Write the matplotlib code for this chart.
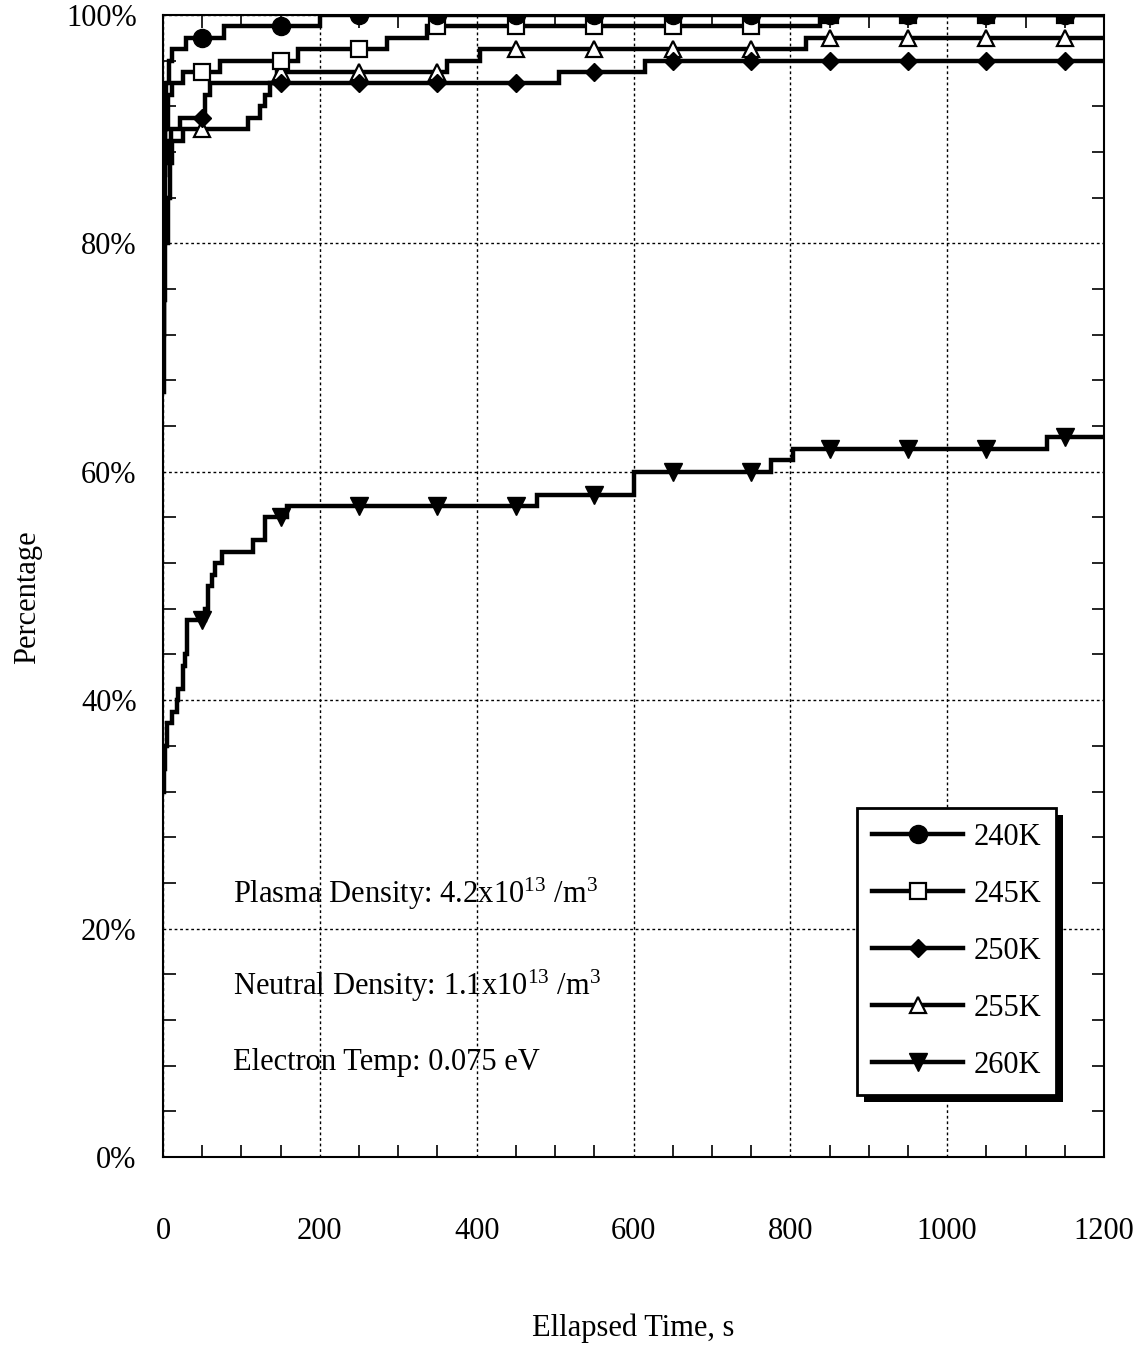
import numpy as np
import matplotlib
matplotlib.use("Agg")
import matplotlib.pyplot as plt
from matplotlib.legend_handler import HandlerLine2D
from matplotlib.patches import Rectangle
from matplotlib.transforms import IdentityTransform
from matplotlib.ticker import MultipleLocator, FuncFormatter

plt.rcParams["font.family"] = ["Liberation Serif", "DejaVu Serif"]
plt.rcParams["mathtext.fontset"] = "custom"
plt.rcParams["mathtext.rm"] = "Liberation Serif"
plt.rcParams["mathtext.it"] = "Liberation Serif:italic"

# Step data: time (s) at which each new percentage level begins
time_240 = [0, 1, 2, 4, 7, 11, 29, 78, 200, 1200]
pct_240 = [78, 86, 90, 94, 96, 97, 98, 99, 100, 100]

time_245 = [0, 1, 3, 6, 11, 25, 73, 172, 285, 337, 838, 1200]
pct_245 = [80, 86, 90, 93, 94, 95, 96, 97, 98, 99, 100, 100]

time_250 = [0, 1, 3, 6, 10, 22, 53, 60, 505, 615, 1200]
pct_250 = [72, 82, 87, 89, 90, 91, 93, 94, 95, 96, 96]

time_255 = [0, 1, 3, 6, 9, 11, 25, 108, 124, 130, 136, 145, 362, 404, 820, 1200]
pct_255 = [67, 75, 80, 84, 87, 89, 90, 91, 92, 93, 94, 95, 96, 97, 98, 98]

time_260 = [0, 1, 2.5, 5, 11, 18, 19, 25, 28, 31, 54, 57, 62, 66, 75,
            115, 130, 158, 477, 601, 775, 803, 1127, 1200]
pct_260 = [32, 34, 36, 38, 39, 40, 41, 43, 44, 47, 48, 50, 51, 52, 53,
           54, 56, 57, 58, 60, 61, 62, 63, 63]

marker_times = np.arange(50, 1200, 100)

series = [
    ("260K", time_260, pct_260, dict(marker="v", ms=13, mfc="black", mec="black")),
    ("255K", time_255, pct_255, dict(marker="^", ms=11, mfc="white", mec="black", mew=1.6)),
    ("250K", time_250, pct_250, dict(marker="D", ms=9, mfc="black", mec="black")),
    ("245K", time_245, pct_245, dict(marker="s", ms=11, mfc="white", mec="black", mew=1.6)),
    ("240K", time_240, pct_240, dict(marker="o", ms=13, mfc="black", mec="black")),
]

FS = 22

fig = plt.figure(figsize=(11.45, 13.47), dpi=100)
ax = fig.add_axes([0.1424, 0.1411, 0.8218, 0.8478])

handles = {}
for label, t, p, mk in series:
    t = np.asarray(t, float)
    p = np.asarray(p, float)
    ax.plot(t, p, drawstyle="steps-post", color="black", lw=3.2,
            solid_joinstyle="miter", zorder=3)
    idx = np.searchsorted(t, marker_times, side="right") - 1
    ax.plot(marker_times, p[idx], linestyle="none", zorder=4, **mk)
    handles[label] = plt.Line2D([], [], color="black", lw=3.2, **mk)

ax.set_xlim(0, 1200)
ax.set_ylim(0, 100)

ax.xaxis.set_major_locator(MultipleLocator(200))
ax.xaxis.set_minor_locator(MultipleLocator(50))
ax.yaxis.set_major_locator(MultipleLocator(20))
ax.yaxis.set_minor_locator(MultipleLocator(4))
ax.yaxis.set_major_formatter(FuncFormatter(lambda v, pos: f"{int(round(v))}%"))

ax.tick_params(which="both", direction="in", top=True, right=True,
               labelsize=FS, color="black", width=1.2)
ax.tick_params(which="major", length=0)
ax.tick_params(which="minor", length=9)
ax.tick_params(axis="x", which="major", pad=43)
ax.tick_params(axis="y", which="major", pad=19)

ax.grid(True, which="major", color="black", linestyle=(0, (2, 2)), lw=1.0)
for s in ax.spines.values():
    s.set_linewidth(1.5)
    s.set_color("black")

ax.set_xlabel("Ellapsed Time, s", fontsize=FS)
ax.set_ylabel("Percentage", fontsize=FS)
ax.xaxis.set_label_coords(0.5, -0.137)
ax.yaxis.set_label_coords(-0.129, 0.49)

txt_kw = dict(fontsize=FS, va="center", ha="left", zorder=5)
ax.text(89, 23.0, r"Plasma Density: 4.2x10$^{\mathrm{13}}$ /m$^{\mathrm{3}}$", **txt_kw)
ax.text(89, 15.0, r"Neutral Density: 1.1x10$^{\mathrm{13}}$ /m$^{\mathrm{3}}$", **txt_kw)
ax.text(89, 8.3, "Electron Temp: 0.075 eV", **txt_kw)


class MarkerRightHandler(HandlerLine2D):
    def get_xdata(self, legend, xdescent, ydescent, width, height, fontsize):
        xdata = np.array([-xdescent, -xdescent + width])
        return xdata, np.array([-xdescent + 0.78 * width])


order = ["240K", "245K", "250K", "255K", "260K"]
leg = ax.legend([handles[k] for k in order], order, loc="upper left",
                bbox_to_anchor=(0.7375, 0.3056), borderaxespad=0,
                fontsize=FS, numpoints=1, handlelength=3.0, handletextpad=0.35,
                labelspacing=0.92, borderpad=0.48, fancybox=False, framealpha=1,
                edgecolor="black",
                handler_map={plt.Line2D: MarkerRightHandler()})
leg.get_frame().set_linewidth(2.0)
leg.set_zorder(6)

fig.canvas.draw()
bb = leg.get_window_extent()
shadow = Rectangle((bb.x0 + 7, bb.y0 - 7), bb.width, bb.height,
                   transform=IdentityTransform(), facecolor="black",
                   edgecolor="none", clip_on=False, zorder=5.5)
ax.add_patch(shadow)

fig.savefig("out.png", dpi=100)
